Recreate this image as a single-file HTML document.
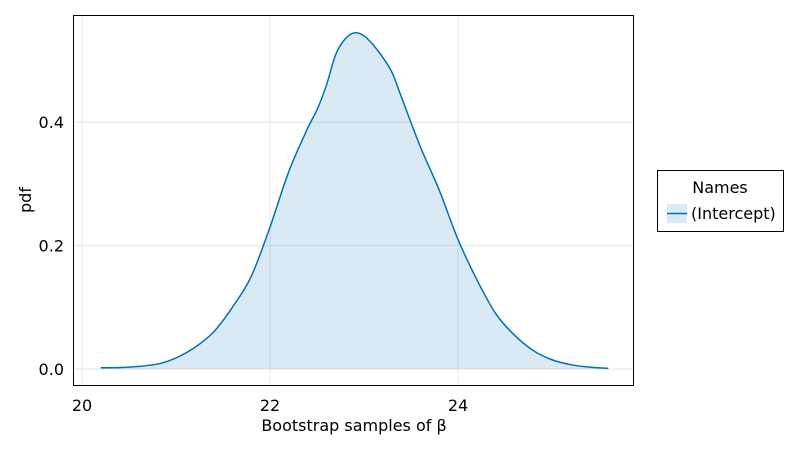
<!DOCTYPE html>
<html><head><meta charset="utf-8"><style>
body{margin:0;background:#fff;font-family:"Liberation Sans","DejaVu Sans",sans-serif;}
</style></head><body>
<svg id="chart" width="800" height="450" xmlns="http://www.w3.org/2000/svg" font-family="DejaVu Sans, Liberation Sans, sans-serif">
</svg>
<script>
const xs=[20.2,20.5,20.8,21.0,21.2,21.4,21.6,21.8,22.0,22.2,22.4,22.5,22.6,22.7,22.8,22.9,23.0,23.1,23.2,23.3,23.4,23.6,23.8,24.0,24.2,24.4,24.6,24.8,25.0,25.2,25.4,25.6];
const ys=[0.002,0.003,0.008,0.018,0.035,0.06,0.1,0.15,0.23,0.32,0.39,0.42,0.46,0.51,0.535,0.545,0.54,0.525,0.505,0.48,0.44,0.36,0.29,0.21,0.145,0.09,0.055,0.03,0.015,0.007,0.003,0.001];
const xTicks=[20,22,24];
const yTicks=[0,0.2,0.4];
const yTickLabels=["0.0","0.2","0.4"];
const NS="http://www.w3.org/2000/svg";
const svg=document.getElementById('chart');
const X=v=>82+(v-20)*94, Y=v=>369-v*617;
function mk(t,a,txt){const e=document.createElementNS(NS,t);for(const k in a)e.setAttribute(k,a[k]);if(txt!==undefined)e.textContent=txt;svg.appendChild(e);return e;}
function smooth(pts){let s='';for(let i=0;i<pts.length-1;i++){const p0=pts[Math.max(i-1,0)],p1=pts[i],p2=pts[i+1],p3=pts[Math.min(i+2,pts.length-1)];
const c1=[p1[0]+(p2[0]-p0[0])/6,p1[1]+(p2[1]-p0[1])/6],c2=[p2[0]-(p3[0]-p1[0])/6,p2[1]-(p3[1]-p1[1])/6];
s+=' C'+c1[0]+','+c1[1]+' '+c2[0]+','+c2[1]+' '+p2[0]+','+p2[1];}return s;}
let e;
e=mk('rect',{x:73,y:15,width:560,height:370,fill:'#fff'});


xTicks.forEach(t=>{e=mk('line',{x1:X(t),x2:X(t),y1:15,y2:385,stroke:'#e6e6e6'});


e=mk('text',{x:X(t),y:411,'text-anchor':'middle','font-size':16},String(t));

});
yTicks.forEach((t,i)=>{e=mk('line',{x1:73,x2:633,y1:Y(t),y2:Y(t),stroke:'#e6e6e6'});


e=mk('text',{x:64,y:Y(t)+6,'text-anchor':'end','font-size':16},yTickLabels[i]);

});
const pts=xs.map((x,i)=>[X(x),Y(ys[i])]);
const curve='M'+pts[0][0]+','+pts[0][1]+smooth(pts);
e=mk('path',{d:curve+' L'+pts[pts.length-1][0]+','+Y(0)+' L'+pts[0][0]+','+Y(0)+' Z',fill:'#0072b2','fill-opacity':0.15,stroke:'none'});


e=mk('path',{d:curve,fill:'none',stroke:'#0072b2','stroke-width':1.5});


e=mk('rect',{x:73.5,y:15.5,width:560,height:370,fill:'none',stroke:'#000','stroke-width':1});


e=mk('text',{x:354,y:431,'text-anchor':'middle','font-size':16},'Bootstrap samples of β');


e=mk('text',{x:31,y:200,'text-anchor':'middle','font-size':16,transform:'rotate(-90 31 200)'},'pdf');


e=mk('rect',{x:657.5,y:170.5,width:126,height:61,fill:'#fff',stroke:'#000'});


e=mk('text',{x:720,y:193,'text-anchor':'middle','font-size':16},'Names');


e=mk('rect',{x:667,y:204,width:20,height:19,fill:'#0072b2','fill-opacity':0.15});


e=mk('line',{x1:667,x2:687,y1:213.5,y2:213.5,stroke:'#0072b2','stroke-width':1.5});


e=mk('text',{x:691,y:219,'font-size':16},'(Intercept)');


</script>
</body></html>
